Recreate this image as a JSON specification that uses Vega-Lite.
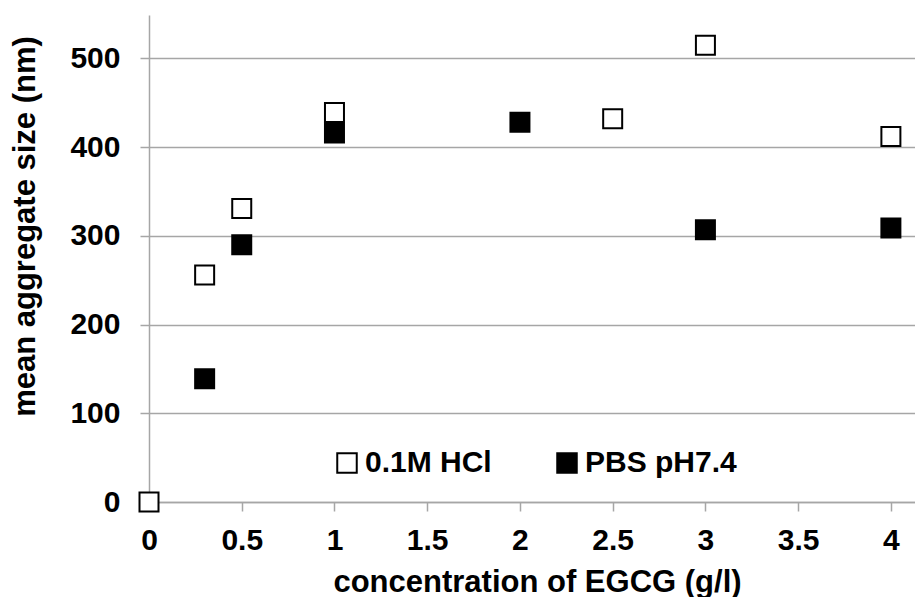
{
  "$schema": "https://vega.github.io/schema/vega-lite/v6.json",
  "width": 766,
  "height": 487,
  "autosize": {"type": "none"},
  "padding": {"left": 149, "top": 15, "right": 0, "bottom": 95},
  "background": "white",
  "config": {
    "view": {"stroke": null},
    "font": "Liberation Sans"
  },
  "data": {
    "values": [
      {"conc": 0, "size": 0, "medium": "0.1M HCl"},
      {"conc": 0.3, "size": 256, "medium": "0.1M HCl"},
      {"conc": 0.5, "size": 331, "medium": "0.1M HCl"},
      {"conc": 1, "size": 439, "medium": "0.1M HCl"},
      {"conc": 2.5, "size": 432, "medium": "0.1M HCl"},
      {"conc": 3, "size": 515, "medium": "0.1M HCl"},
      {"conc": 4, "size": 412, "medium": "0.1M HCl"},
      {"conc": 0.3, "size": 139, "medium": "PBS pH7.4"},
      {"conc": 0.5, "size": 290, "medium": "PBS pH7.4"},
      {"conc": 1, "size": 416, "medium": "PBS pH7.4"},
      {"conc": 2, "size": 428, "medium": "PBS pH7.4"},
      {"conc": 3, "size": 307, "medium": "PBS pH7.4"},
      {"conc": 4, "size": 309, "medium": "PBS pH7.4"}
    ]
  },
  "mark": {"type": "square", "filled": true, "stroke": "black", "strokeWidth": 2, "size": 361, "opacity": 1},
  "encoding": {
    "x": {
      "field": "conc", "type": "quantitative",
      "scale": {"domain": [0, 4.13], "nice": false, "zero": false},
      "axis": {
        "title": "concentration of EGCG (g/l)",
        "values": [0, 0.5, 1, 1.5, 2, 2.5, 3, 3.5, 4],
        "format": "~g",
        "grid": false,
        "domainColor": "#a6a6a6", "domainWidth": 1.5,
        "tickColor": "#a6a6a6", "tickWidth": 1.5, "tickSize": 9,
        "labelFont": "Liberation Sans", "labelFontSize": 30, "labelFontWeight": "bold", "labelColor": "black",
        "labelPadding": 14, "labelFlush": false,
        "titleFont": "Liberation Sans", "titleFontSize": 31, "titleFontWeight": "bold", "titleColor": "black",
        "titleX": 388, "titleY": 89, "titleBaseline": "alphabetic", "titleAlign": "center", "titleAnchor": "start",
        "titleLimit": 800
      }
    },
    "y": {
      "field": "size", "type": "quantitative",
      "scale": {"domain": [0, 549], "nice": false},
      "axis": {
        "title": "mean aggregate size (nm)",
        "values": [0, 100, 200, 300, 400, 500],
        "grid": true, "gridColor": "#a6a6a6", "gridWidth": 1.5,
        "domainColor": "#a6a6a6", "domainWidth": 1.5,
        "tickColor": "#a6a6a6", "tickWidth": 1.5, "tickSize": 9,
        "labelFont": "Liberation Sans", "labelFontSize": 30, "labelFontWeight": "bold", "labelColor": "black",
        "labelPadding": 20,
        "titleFont": "Liberation Sans", "titleFontSize": 31, "titleFontWeight": "bold", "titleColor": "black",
        "titleX": -124, "titleY": 211, "titleBaseline": "middle", "titleAlign": "center", "titleAngle": -90,
        "titleLimit": 1000
      }
    },
    "fill": {
      "field": "medium", "type": "nominal",
      "scale": {"domain": ["0.1M HCl", "PBS pH7.4"], "range": ["white", "black"]},
      "legend": {
        "title": null,
        "orient": "none",
        "direction": "horizontal",
        "legendX": 183,
        "legendY": 433,
        "symbolType": "square",
        "symbolSize": 380,
        "symbolStrokeColor": "black",
        "symbolStrokeWidth": 2,
        "labelFont": "Liberation Sans", "labelFontSize": 30, "labelFontWeight": "bold", "labelColor": "black",
        "labelOffset": 3,
        "columnPadding": 60,
        "labelLimit": 400
      }
    },
    "order": {"field": "medium", "type": "nominal"}
  }
}
